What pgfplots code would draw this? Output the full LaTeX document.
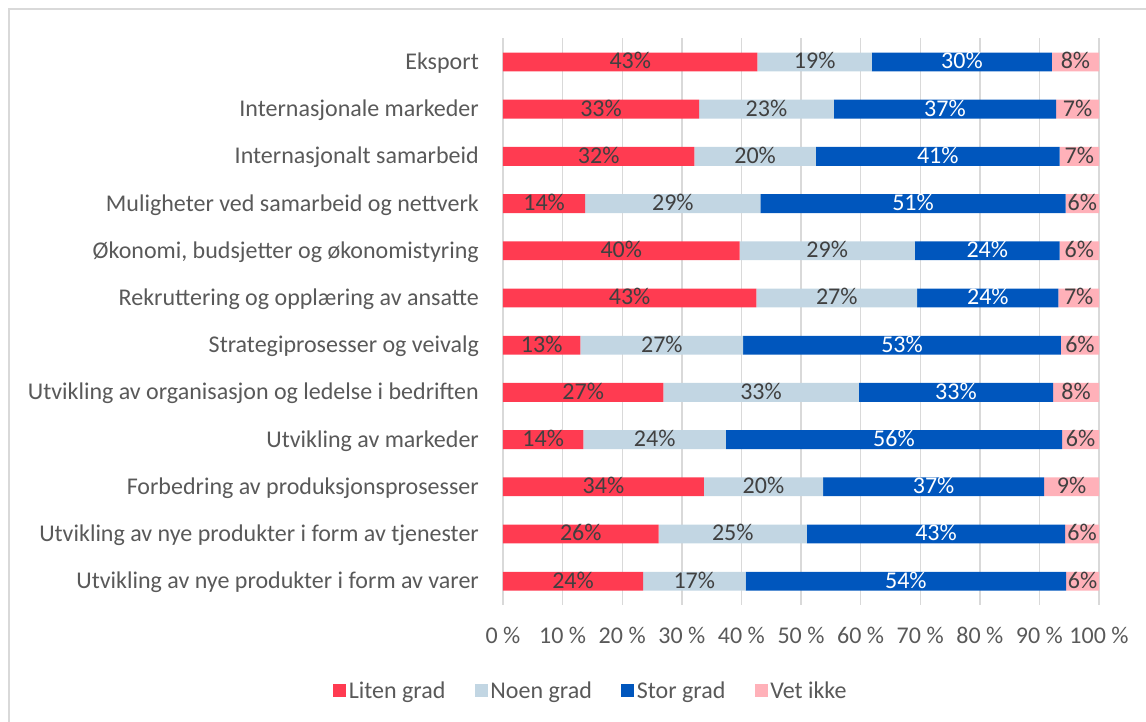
\documentclass[border=0pt]{standalone}
\usepackage{pgfplots}
\usepackage{pgfplotstable}
\pgfplotsset{compat=1.18}
\usepackage{fontspec}
\setmainfont{Carlito}
\definecolor{cRed}{HTML}{FF3B51}
\definecolor{cLb}{HTML}{C2D6E3}
\definecolor{cBl}{HTML}{0056BD}
\definecolor{cPk}{HTML}{FFB1B9}
\definecolor{txt}{HTML}{595959}
\definecolor{lab}{HTML}{404040}
\definecolor{grd}{HTML}{D9D9D9}

% y: 11 = Eksport (top) ... 0 = varer (bottom)
\pgfplotstableread{
y  a    al b    bl c    cl d   dl
11 42.7 43 19.2 19 30.2 30 7.9 8
10 32.9 33 22.6 23 37.3 37 7.2 7
9  32.1 32 20.4 20 40.9 41 6.6 7
8  13.8 14 29.4 29 51.2 51 5.6 6
7  39.7 40 29.4 29 24.3 24 6.6 6
6  42.5 43 27.0 27 23.7 24 6.8 7
5  13.0 13 27.3 27 53.3 53 6.4 6
4  26.9 27 32.8 33 32.6 33 7.7 8
3  13.5 14 23.9 24 56.4 56 6.2 6
2  33.7 34 20.0 20 37.1 37 9.2 9
1  26.1 26 24.9 25 43.3 43 5.7 6
0  23.5 24 17.2 17 53.8 54 5.5 6
}\data

\newcommand{\chartfont}{\fontsize{24}{28}\selectfont}

\begin{document}
\begin{tikzpicture}
\path[use as bounding box] (0,0) rectangle (1146pt,722pt);
\draw[grd, line width=2pt] (9pt,-2pt) -- (9pt,712.5pt) -- (1148pt,712.5pt);
\begin{axis}[
  at={(503pt,683.6pt)}, anchor=north west,
  scale only axis, width=596pt, height=566.4pt,
  xbar stacked, bar width=0.40,
  xmin=0, xmax=100, ymin=-0.5, ymax=11.5,
  axis line style={draw=none},
  major tick length=0pt,
  xmajorgrids, major grid style={grd, line width=1.4pt},
  xtick={0,10,...,100},
  xticklabels={0 \%,10 \%,20 \%,30 \%,40 \%,50 \%,60 \%,70 \%,80 \%,90 \%,100 \%},
  ytick={0,...,11},
  yticklabels={
    Utvikling av nye produkter i form av varer,
    Utvikling av nye produkter i form av tjenester,
    Forbedring av produksjonsprosesser,
    Utvikling av markeder,
    Utvikling av organisasjon og ledelse i bedriften,
    Strategiprosesser og veivalg,
    Rekruttering og opplæring av ansatte,
    {Økonomi, budsjetter og økonomistyring},
    Muligheter ved samarbeid og nettverk,
    Internasjonalt samarbeid,
    Internasjonale markeder,
    Eksport},
  every tick label/.append style={font=\chartfont, text=txt},
  yticklabel style={anchor=east, inner sep=0pt, text height=15.2pt, text depth=0pt, xshift=-24pt},
  xticklabel style={anchor=center, inner sep=0pt, text height=15.2pt, text depth=0pt, yshift=-30.9pt},
  clip=false,
  nodes near coords={\pgfplotspointmeta\%},
  point meta=explicit symbolic,
  every node near coord/.append style={anchor=center, font=\chartfont, text=lab,
     inner sep=0pt, text height=14pt, text depth=0pt},
  legend columns=4,
  legend image code/.code={\fill[#1] (0pt,-6.5pt) rectangle (13pt,6.5pt);},
  legend style={at={(axis description cs:0.148,-0.152)}, anchor=center, draw=none,
     font=\chartfont, text=txt, inner sep=0pt,
     nodes={inner sep=2.5pt},
     /tikz/every even column/.append style={column sep=27pt}},
]
\addplot[fill=cRed, draw=none] table[x=a, y=y, meta=al] {\data};
\addlegendentry{Liten grad}
\addplot[fill=cLb, draw=none] table[x=b, y=y, meta=bl] {\data};
\addlegendentry{Noen grad}
\addplot[fill=cBl, draw=none, every node near coord/.append style={text=white}] table[x=c, y=y, meta=cl] {\data};
\addlegendentry{Stor grad}
\addplot[fill=cPk, draw=none] table[x=d, y=y, meta=dl] {\data};
\addlegendentry{Vet ikke}
\end{axis}
\end{tikzpicture}
\end{document}
